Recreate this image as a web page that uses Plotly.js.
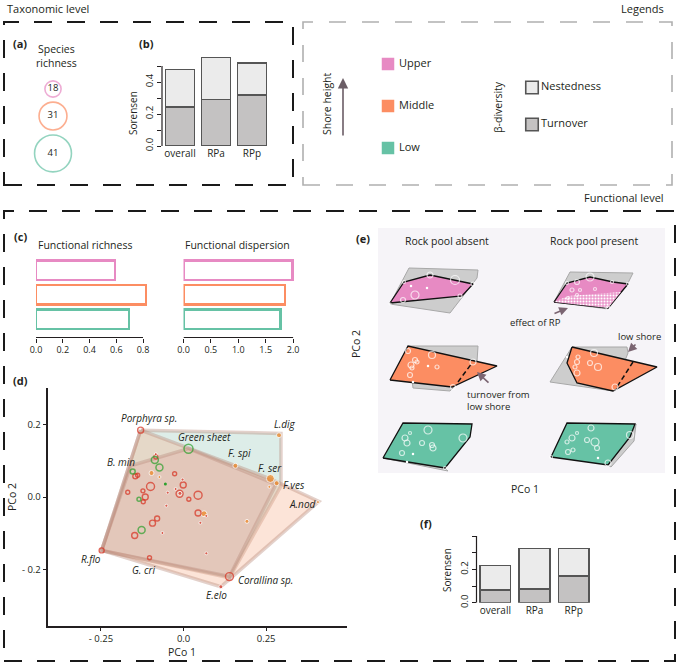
<!DOCTYPE html>
<html><head><meta charset="utf-8">
<script src="https://cdn.plot.ly/plotly-3.0.1.min.js"></script>
<style>html,body{margin:0;padding:0;background:#fff}#chart{width:678px;height:664px}</style>
</head><body><div id="chart"></div>
<script>
// ---------------- DATA ----------------
// (a) species richness per shore level
const shoreLevels = ['Upper', 'Middle', 'Low'];
const speciesRichness = [18, 31, 41];
// (b) taxonomic beta-diversity (Sorensen)
const groups = ['overall', 'RPa', 'RPp'];
const taxTurnover = [0.245, 0.292, 0.320];
const taxNestedness = [0.232, 0.262, 0.200];
// (c) functional richness / dispersion per shore level (Upper, Middle, Low)
const funcRichness = [0.59, 0.82, 0.695];
const funcDispersion = [1.99, 1.85, 1.77];
const richTicks = [0, 0.2, 0.4, 0.6, 0.8];
const dispTicks = [0, 0.5, 1.0, 1.5, 2.0];
// (d) PCoA of species
const redOpenX = [-0.130, -0.248, -0.103, 0.139, -0.100, -0.116, -0.122, -0.012, -0.001, 0.044, 0.044, 0.016, -0.027, -0.080, -0.094, -0.148, -0.169, -0.123, -0.146, -0.139, -0.084];
const redOpenY = [0.184, -0.147, -0.167, -0.219, 0.029, 0.000, -0.013, 0.009, 0.033, 0.005, -0.044, -0.006, 0.064, -0.059, -0.072, -0.106, 0.013, 0.017, 0.057, 0.060, 0.110];
const redOpenS = [6, 5, 4, 8, 8, 6, 4, 7, 6, 8, 6, 4, 4, 5, 6, 6, 4, 4, 5, 4, 4];
const redDotX = [0.113, -0.003, -0.024, -0.048, -0.052, -0.064, 0.051, 0.069, 0.069, -0.011, -0.084];
const redDotY = [-0.247, 0.048, 0.022, 0.012, -0.024, -0.099, -0.071, -0.052, -0.155, 0.010, 0.118];
const redDotS = [4, 3, 3, 3, 3, 3, 3, 3, 3, 4, 3];
const greenOpenX = [0.015, -0.087, -0.073, -0.154, -0.135, -0.127];
const greenOpenY = [0.133, 0.102, 0.081, 0.070, -0.006, -0.091];
const greenOpenS = [9, 7, 7, 5, 4, 7];
const greenDotX = [-0.055];
const greenDotY = [0.036];
const orangeX = [0.289, 0.157, 0.263, 0.282, 0.260, 0.407, -0.097, -0.073, 0.062, 0.192];
const orangeY = [0.170, 0.086, 0.051, 0.038, 0.028, -0.014, 0.066, 0.055, -0.046, -0.067];
const orangeS = [5, 5, 8, 5, 3, 3, 5, 3, 6, 4];
const hullTealX = [-0.130, 0.295, 0.295, 0.139, -0.248];
const hullTealY = [0.184, 0.175, 0.030, -0.222, -0.147];
const hullPeachX = [-0.130, 0.263, 0.410, 0.113, -0.248];
const hullPeachY = [0.184, 0.050, -0.012, -0.247, -0.147];
const hullRedX = [-0.248, -0.160, 0.015, 0.280, 0.139];
const hullRedY = [-0.147, 0.086, 0.133, 0.035, -0.219];
const speciesNames = ['Porphyra sp.', 'Green sheet', 'L.dig', 'F. spi', 'F. ser', 'F.ves', 'A.nod', 'B. min', 'R.flo', 'G. cri', 'Corallina sp.', 'E.elo'];
const speciesLabX = [-0.105, 0.064, 0.308, 0.168, 0.261, 0.334, 0.360, -0.189, -0.279, -0.120, 0.248, 0.100];
const speciesLabY = [0.218, 0.164, 0.201, 0.121, 0.081, 0.034, -0.018, 0.095, -0.171, -0.202, -0.228, -0.270];
const dTickX = [-0.25, 0, 0.25];
const dTickXText = ['- 0.25', '0.0', '0.25'];
const dTickY = [-0.2, 0, 0.2];
const dTickYText = ['- 0.2', '0.0', '0.2'];
// (e) schematic functional spaces (pixel-like schematic units)
const greyUAx = [409, 478, 477, 450, 390], greyUAy = [268, 270, 278, 313, 304];
const pinkUAx = [390, 404, 430, 455, 473, 462], pinkUAy = [303, 282, 275, 280, 284, 296];
const greyUPx = [570, 633, 627, 608, 554], greyUPy = [272, 273, 285, 309, 302];
const pinkUPx = [554, 567, 590, 613, 628, 608], pinkUPy = [302, 283, 277, 282, 284, 308];
const rpUPx = [554, 568, 621, 608], rpUPy = [302, 296, 292, 308];
const greyMAx = [408, 478, 477, 450, 413], greyMAy = [346, 346, 362, 391, 388];
const orangeMAx = [390, 408, 497, 452], orangeMAy = [380, 346, 366, 387];
const dashMAx = [458, 472], dashMAy = [382, 363];
const greyMPx = [572, 627, 628, 613, 550], greyMPy = [347, 347, 353, 391, 382];
const orangeMPx = [572, 657, 613, 577, 567], orangeMPy = [347, 367, 391, 383, 363];
const dashMPx = [633, 617], dashMPy = [362, 387];
const greyLAx = [383, 445, 448], greyLAy = [458, 468, 471];
const greenLAx = [383, 403, 472, 470, 445], greenLAy = [458, 423, 424, 437, 468];
const greyLPx = [630, 636, 634, 611, 608], greyLPy = [437, 424, 441, 467, 465];
const greenLPx = [551, 567, 635, 630, 608], greenLPy = [457, 423, 424, 437, 465];
const eCircX = [430, 455, 415, 403, 404, 473, 460, 390, 590, 577, 572, 580, 595, 612, 567, 608, 568, 577, 628,
  408, 432, 415, 411, 412, 410, 437, 473, 453, 417, 594, 578, 577, 590, 598, 575, 577, 615,
  428, 463, 405, 407, 422, 432, 433, 402, 410, 445, 591, 595, 587, 572, 567, 577, 568, 573, 597, 608, 630, 551];
const eCircY = [275, 280, 295, 300, 282, 284, 296, 304, 277, 282, 290, 290, 289, 282, 283, 308, 298, 295, 284,
  351, 355, 360, 365, 368, 375, 367, 362, 387, 362, 353, 357, 362, 363, 367, 367, 373, 387,
  430, 438, 438, 443, 443, 445, 448, 453, 433, 468, 428, 442, 440, 438, 442, 433, 452, 450, 448, 463, 435, 457];
const eCircS = [6, 9, 8, 5, 3, 4, 4, 2, 8, 5, 4, 3, 3, 3, 3, 4, 3, 3, 3,
  5, 7, 5, 6, 4, 5, 4, 6, 5, 4, 7, 4, 5, 5, 7, 4, 6, 6,
  8, 8, 6, 6, 5, 5, 6, 5, 3, 3, 6, 8, 5, 6, 4, 3, 5, 4, 5, 6, 7, 3];
const eDotX = [411, 427, 428, 413, 567, 413, 407, 598];
const eDotY = [286, 288, 366, 382, 357, 454, 462, 458];
// (f) functional beta-diversity (Sorensen)
const funTurnover = [0.076, 0.082, 0.160];
const funNestedness = [0.148, 0.244, 0.166];
const betaParts = ['Nestedness', 'Turnover'];

// ---------------- STYLE / LAYOUT HELPERS ----------------
const W = 678, H = 664;
const FONT = '"Open Sans", Lato, sans-serif';
const INK = '#231f20';
const C_UP = '#e78ac3', C_MID = '#fc8d62', C_LOW = '#66c2a5';
const levelColors = [C_UP, C_MID, C_LOW];
const C_TURN = '#c4c2c2', C_NEST = '#ebebeb', C_BAREDGE = '#555555';
function dx(a, b) { return [a / W, b / W]; }
function dy(t, b) { return [1 - b / H, 1 - t / H]; }
function ann(text, x, y, o) {
  return Object.assign({ text: text, x: x / W, y: 1 - y / H, xref: 'paper', yref: 'paper', showarrow: false,
    xanchor: 'center', yanchor: 'middle', font: { family: FONT, size: 10.5, color: INK } }, o || {});
}
function closed(a) { return a.concat([a[0]]); }
const hidden = { visible: false, showgrid: false, zeroline: false };

const traces = [];
// (a) species richness circles, stacked from their sizes
const rad = speciesRichness.map(v => v * 0.45);
const aY = []; let cur = 89;
rad.forEach((r, i) => { if (i > 0) cur += rad[i - 1] + 5 + r; aY.push(cur); });
traces.push({ type: 'scatter', mode: 'markers+text', xaxis: 'x7', yaxis: 'y7',
  x: shoreLevels.map(() => 0), y: aY, text: speciesRichness.map(String), textposition: 'middle center',
  textfont: { family: FONT, size: 9.5, color: INK },
  marker: { size: rad.map(r => 2 * r), color: 'rgba(255,255,255,0)', line: { color: levelColors, width: 1.6 } },
  hoverinfo: 'skip', showlegend: false });

// (b) taxonomic beta-diversity
traces.push({ type: 'bar', xaxis: 'x', yaxis: 'y', x: groups, y: taxTurnover, width: 0.8, name: 'Turnover',
  marker: { color: C_TURN, line: { color: C_BAREDGE, width: 1.5 } }, showlegend: false });
traces.push({ type: 'bar', xaxis: 'x', yaxis: 'y', x: groups, y: taxNestedness, width: 0.8, name: 'Nestedness',
  marker: { color: C_NEST, line: { color: C_BAREDGE, width: 1.5 } }, showlegend: false });

// (c) functional richness / dispersion
traces.push({ type: 'bar', orientation: 'h', xaxis: 'x2', yaxis: 'y2', y: shoreLevels, x: funcRichness, width: 0.8,
  marker: { color: 'white', line: { color: levelColors, width: 2.3 } }, showlegend: false });
traces.push({ type: 'bar', orientation: 'h', xaxis: 'x3', yaxis: 'y3', y: shoreLevels, x: funcDispersion, width: 0.8,
  marker: { color: 'white', line: { color: levelColors, width: 2.3 } }, showlegend: false });

// (d) hulls and species
const hullEdge = { color: 'rgba(185,140,125,0.40)', width: 3.5 };
traces.push({ type: 'scatter', mode: 'lines', xaxis: 'x4', yaxis: 'y4', x: closed(hullTealX), y: closed(hullTealY),
  fill: 'toself', fillcolor: 'rgba(120,185,165,0.25)', line: hullEdge, hoverinfo: 'skip', showlegend: false });
traces.push({ type: 'scatter', mode: 'lines', xaxis: 'x4', yaxis: 'y4', x: closed(hullPeachX), y: closed(hullPeachY),
  fill: 'toself', fillcolor: 'rgba(245,170,135,0.32)', line: hullEdge, hoverinfo: 'skip', showlegend: false });
traces.push({ type: 'scatter', mode: 'lines', xaxis: 'x4', yaxis: 'y4', x: closed(hullRedX), y: closed(hullRedY),
  fill: 'toself', fillcolor: 'rgba(220,120,120,0.17)', line: hullEdge, hoverinfo: 'skip', showlegend: false });
traces.push({ type: 'scatter', mode: 'markers', xaxis: 'x4', yaxis: 'y4', x: orangeX, y: orangeY,
  marker: { size: orangeS, color: '#ef8520' }, showlegend: false });
traces.push({ type: 'scatter', mode: 'markers', xaxis: 'x4', yaxis: 'y4', x: redOpenX, y: redOpenY,
  marker: { size: redOpenS, color: 'rgba(0,0,0,0)', line: { color: '#d7301f', width: 1.4 } }, showlegend: false });
traces.push({ type: 'scatter', mode: 'markers', xaxis: 'x4', yaxis: 'y4', x: redDotX, y: redDotY,
  marker: { size: redDotS, color: '#d7301f' }, showlegend: false });
traces.push({ type: 'scatter', mode: 'markers', xaxis: 'x4', yaxis: 'y4', x: greenOpenX, y: greenOpenY,
  marker: { size: greenOpenS, color: 'rgba(0,0,0,0)', line: { color: '#2ca02c', width: 1.5 } }, showlegend: false });
traces.push({ type: 'scatter', mode: 'markers', xaxis: 'x4', yaxis: 'y4', x: greenDotX, y: greenDotY,
  marker: { size: 3, color: '#2ca02c' }, showlegend: false });

// (e) schematic
function poly(xs, ys, fill, line, extra) {
  return Object.assign({ type: 'scatter', mode: 'lines', xaxis: 'x5', yaxis: 'y5', x: closed(xs), y: closed(ys),
    fill: 'toself', fillcolor: fill, line: line, hoverinfo: 'skip', showlegend: false }, extra || {});
}
const greyLine = { color: '#a8a8a8', width: 1 };
const blackLine = { color: '#111', width: 1.3 };
[[greyUAx, greyUAy], [greyUPx, greyUPy], [greyMAx, greyMAy], [greyMPx, greyMPy], [greyLAx, greyLAy], [greyLPx, greyLPy]]
  .forEach(p => traces.push(poly(p[0], p[1], '#cdcdcd', greyLine)));
traces.push(poly(pinkUAx, pinkUAy, C_UP, blackLine));
traces.push(poly(pinkUPx, pinkUPy, C_UP, blackLine));
traces.push(poly(rpUPx, rpUPy, C_UP, { color: 'rgba(0,0,0,0)', width: 0 },
  { fillpattern: { shape: '.', bgcolor: '#ec9bcd', fgcolor: '#ffffff', size: 3, solidity: 0.35 } }));
traces.push(poly(orangeMAx, orangeMAy, C_MID, blackLine));
traces.push(poly(orangeMPx, orangeMPy, C_MID, blackLine));
traces.push(poly(greenLAx, greenLAy, C_LOW, blackLine));
traces.push(poly(greenLPx, greenLPy, C_LOW, blackLine));
traces.push({ type: 'scatter', mode: 'lines', xaxis: 'x5', yaxis: 'y5', x: dashMAx, y: dashMAy,
  line: { color: '#111', width: 1.5, dash: '5px,3px' }, hoverinfo: 'skip', showlegend: false });
traces.push({ type: 'scatter', mode: 'lines', xaxis: 'x5', yaxis: 'y5', x: dashMPx, y: dashMPy,
  line: { color: '#111', width: 1.5, dash: '5px,3px' }, hoverinfo: 'skip', showlegend: false });
traces.push({ type: 'scatter', mode: 'markers', xaxis: 'x5', yaxis: 'y5', x: eCircX, y: eCircY,
  marker: { size: eCircS, color: 'rgba(0,0,0,0)', line: { color: '#ffffff', width: 1.2 } }, hoverinfo: 'skip', showlegend: false });
traces.push({ type: 'scatter', mode: 'markers', xaxis: 'x5', yaxis: 'y5', x: eDotX, y: eDotY,
  marker: { size: 2.5, color: '#ffffff' }, hoverinfo: 'skip', showlegend: false });

// (f) functional beta-diversity
traces.push({ type: 'bar', xaxis: 'x6', yaxis: 'y6', x: groups, y: funTurnover, width: 0.78,
  marker: { color: C_TURN, line: { color: C_BAREDGE, width: 1.5 } }, showlegend: false });
traces.push({ type: 'bar', xaxis: 'x6', yaxis: 'y6', x: groups, y: funNestedness, width: 0.78,
  marker: { color: C_NEST, line: { color: C_BAREDGE, width: 1.5 } }, showlegend: false });

// Legend panel (hidden axes, legend rows laid out top-down)
const legShoreY = shoreLevels.map((_, i) => 64 + i * 42);
traces.push({ type: 'scatter', mode: 'markers', xaxis: 'x8', yaxis: 'y8', x: shoreLevels.map(() => 388), y: legShoreY,
  marker: { symbol: 'square', size: 12.5, color: levelColors }, hoverinfo: 'skip', showlegend: false });
traces.push({ type: 'scatter', mode: 'text', xaxis: 'x8', yaxis: 'y8', x: shoreLevels.map(() => 399), y: legShoreY,
  text: shoreLevels, textposition: 'middle right', textfont: { family: FONT, size: 11, color: INK },
  hoverinfo: 'skip', showlegend: false });
const legBetaY = betaParts.map((_, i) => 87.5 + i * 37);
traces.push({ type: 'scatter', mode: 'markers', xaxis: 'x8', yaxis: 'y8', x: betaParts.map(() => 532), y: legBetaY,
  marker: { symbol: 'square', size: 12.5, color: [C_NEST, C_TURN], line: { color: '#555', width: 1.6 } },
  hoverinfo: 'skip', showlegend: false });
traces.push({ type: 'scatter', mode: 'text', xaxis: 'x8', yaxis: 'y8', x: betaParts.map(() => 541), y: legBetaY,
  text: betaParts, textposition: 'middle right', textfont: { family: FONT, size: 11, color: INK },
  hoverinfo: 'skip', showlegend: false });

// ---------------- AXES ----------------
const tickFont = { family: FONT, size: 9.5, color: INK };
const layout = {
  width: W, height: H, margin: { l: 0, r: 0, t: 0, b: 0 }, paper_bgcolor: '#ffffff', plot_bgcolor: 'rgba(0,0,0,0)',
  barmode: 'stack', showlegend: false, font: { family: FONT, color: INK },
  // (b)
  xaxis: { domain: dx(162, 270), range: [-0.5, 2.5], type: 'category', showline: false, showgrid: false, zeroline: false,
    ticks: '', tickfont: { family: FONT, size: 10, color: INK }, anchor: 'y', fixedrange: true },
  yaxis: { domain: dy(50, 146), range: [0, 0.6], tickvals: [0, 0.1, 0.2, 0.3, 0.4, 0.5], ticktext: ['0.0', '', '0.2', '', '0.4', ''],
    ticks: 'outside', ticklen: 4, tickwidth: 1, tickcolor: INK, tickangle: -90, tickfont: tickFont, showgrid: false,
    zeroline: false, showline: false, anchor: 'x' },
  // (c)
  xaxis2: { domain: dx(36, 36 + 0.84 * 133.75), range: [0, 0.84], tickvals: richTicks, ticktext: richTicks.map(v => v.toFixed(1)),
    ticks: 'outside', ticklen: 4, tickcolor: INK, tickfont: { family: FONT, size: 9, color: INK }, showgrid: false,
    zeroline: false, showline: false, anchor: 'y2' },
  yaxis2: { domain: dy(258, 337.5), range: [-0.75, 2.5], type: 'category', categoryorder: 'array',
    categoryarray: ['Low', 'Middle', 'Upper'], visible: false, anchor: 'x2' },
  xaxis3: { domain: dx(183.5, 183.5 + 2.05 * 54.8), range: [0, 2.05], tickvals: dispTicks, ticktext: dispTicks.map(v => v.toFixed(1)),
    ticks: 'outside', ticklen: 4, tickcolor: INK, tickfont: { family: FONT, size: 9, color: INK }, showgrid: false,
    zeroline: false, showline: false, anchor: 'y3' },
  yaxis3: { domain: dy(258, 337.5), range: [-0.75, 2.5], type: 'category', categoryorder: 'array',
    categoryarray: ['Low', 'Middle', 'Upper'], visible: false, anchor: 'x3' },
  // (d)
  xaxis4: { domain: dx(47.5, 347), range: [-0.412, 0.495], tickvals: dTickX, ticktext: dTickXText, ticks: 'outside',
    ticklen: 3, tickcolor: INK, tickfont: tickFont, showline: true, linecolor: INK, linewidth: 1.8, showgrid: false,
    zeroline: false, anchor: 'y4' },
  yaxis4: { domain: dy(388, 626), range: [-0.355, 0.30], tickvals: dTickY, ticktext: dTickYText, ticks: 'outside',
    ticklen: 3, tickcolor: INK, tickfont: tickFont, showline: true, linecolor: INK, linewidth: 1.8, showgrid: false,
    zeroline: false, anchor: 'x4' },
  // (e)
  xaxis5: Object.assign({ domain: dx(378, 665), range: [378, 665], anchor: 'y5' }, hidden),
  yaxis5: Object.assign({ domain: dy(228, 473), range: [473, 228], anchor: 'x5' }, hidden),
  // (f)
  xaxis6: { domain: dx(476.5, 593.3), range: [-0.48, 2.5], type: 'category', showline: false, showgrid: false, zeroline: false,
    ticks: '', tickfont: { family: FONT, size: 10, color: INK }, anchor: 'y6' },
  yaxis6: { domain: dy(532.7, 602.7), range: [0, 0.42], tickvals: [0, 0.1, 0.2, 0.3, 0.4], ticktext: ['0.0', '', '0.2', '', ''],
    ticks: 'outside', ticklen: 4, tickcolor: INK, tickangle: -90, tickfont: tickFont, showgrid: false, zeroline: false,
    showline: false, anchor: 'x6' },
  // (a)
  xaxis7: Object.assign({ domain: dx(23, 83), range: [-1, 1], anchor: 'y7' }, hidden),
  yaxis7: Object.assign({ domain: dy(60, 185), range: [185, 60], anchor: 'x7' }, hidden),
  // legends
  xaxis8: Object.assign({ domain: dx(303, 672), range: [303, 672], anchor: 'y8' }, hidden),
  yaxis8: Object.assign({ domain: dy(22, 185), range: [185, 22], anchor: 'x8' }, hidden),
};

// ---------------- DECORATION ----------------
layout.shapes = [
  { type: 'rect', xref: 'x5 domain', yref: 'y5 domain', x0: 0, x1: 1, y0: 0, y1: 1, fillcolor: '#f6f4f8', line: { width: 0 }, layer: 'below' },
  { type: 'rect', xref: 'paper', yref: 'paper', x0: 4 / W, x1: 293 / W, y0: 1 - 185 / H, y1: 1 - 22 / H,
    line: { color: '#1a1a1a', width: 2, dash: '18px,15px' } },
  { type: 'rect', xref: 'paper', yref: 'paper', x0: 303 / W, x1: 672 / W, y0: 1 - 185 / H, y1: 1 - 22 / H,
    line: { color: '#b0b0b0', width: 1.6, dash: '17px,16px' } },
  { type: 'rect', xref: 'paper', yref: 'paper', x0: 4 / W, x1: 675 / W, y0: 1 - 661 / H, y1: 1 - 211 / H,
    line: { color: '#1a1a1a', width: 2, dash: '18px,15px' } },
  { type: 'line', xref: 'x domain', yref: 'y', x0: 0, x1: 0, y0: 0, y1: 0.5, line: { color: INK, width: 1.2 } },
  { type: 'line', xref: 'x2', yref: 'y2 domain', x0: 0, x1: 0.8, y0: 0, y1: 0, line: { color: INK, width: 1.2 } },
  { type: 'line', xref: 'x3', yref: 'y3 domain', x0: 0, x1: 2, y0: 0, y1: 0, line: { color: INK, width: 1.2 } },
  { type: 'line', xref: 'x6 domain', yref: 'y6', x0: 0, x1: 0, y0: 0, y1: 0.4, line: { color: INK, width: 1.2 } },
];

const bold = { family: FONT, size: 11, color: INK, weight: 'bold' };
const f10 = { family: FONT, size: 10, color: INK };
const A = [
  ann('Taxonomic level', 5, 9, { xanchor: 'left', font: { family: FONT, size: 11, color: INK } }),
  ann('Legends', 666, 8, { xanchor: 'right', font: { family: FONT, size: 11, color: INK } }),
  ann('Functional level', 666, 197, { xanchor: 'right', font: { family: FONT, size: 11, color: INK } }),
  ann('<b>(a)</b>', 20, 43, { font: bold }),
  ann('<b>(b)</b>', 146, 43, { font: bold }),
  ann('<b>(c)</b>', 20, 236, { font: bold }),
  ann('<b>(d)</b>', 20, 380, { font: bold }),
  ann('<b>(e)</b>', 363, 238, { font: bold }),
  ann('<b>(f)</b>', 426, 523, { font: bold }),
  ann('Species<br>richness', 56, 56),
  ann('Sorensen', 133, 113, { textangle: -90, font: f10 }),
  ann('Sorensen', 447, 570, { textangle: -90, font: f10 }),
  ann('Shore height', 327, 104, { textangle: -90 }),
  ann('β-diversity', 498, 107, { textangle: -90 }),
  ann('Functional richness', 36, 245, { xanchor: 'left' }),
  ann('Functional dispersion', 183, 245, { xanchor: 'left' }),
  ann('PCo 2', 12, 497, { textangle: -90 }),
  ann('PCo 1', 182, 652),
  ann('PCo 2', 356, 344, { textangle: -90 }),
  ann('PCo 1', 525, 489),
  ann('Rock pool absent', 447, 241),
  ann('Rock pool present', 594, 241),
  ann('effect of RP', 535, 322, { font: { family: FONT, size: 9.5, color: INK } }),
  ann('turnover from<br>low shore', 465, 400, { xanchor: 'left', align: 'left', font: { family: FONT, size: 9.5, color: INK } }),
  ann('low shore', 639, 336, { font: { family: FONT, size: 9.5, color: INK } }),
  // shore height arrow
  { x: 343 / W, y: 1 - 78 / H, xref: 'paper', yref: 'paper', text: '', showarrow: true, ax: 0, ay: 59,
    arrowhead: 2, arrowsize: 1.3, arrowwidth: 1.6, arrowcolor: '#6b5d66' },
];
// (e) arrows
const arrowCol = '#7b6572';
[[568, 308, 553, 314], [477, 372, 490, 384], [628, 352, 637, 343]].forEach(a => {
  A.push({ x: a[0], y: a[1], xref: 'x5', yref: 'y5', ax: a[2], ay: a[3], axref: 'x5', ayref: 'y5', text: '',
    showarrow: true, arrowhead: 2, arrowsize: 1.1, arrowwidth: 1.6, arrowcolor: arrowCol });
});
// (d) species labels
speciesNames.forEach((n, i) => {
  A.push({ x: speciesLabX[i], y: speciesLabY[i], xref: 'x4', yref: 'y4', text: '<i>' + n + '</i>', showarrow: false,
    font: { family: FONT, size: 10, color: INK } });
});
layout.annotations = A;

Plotly.newPlot('chart', traces, layout, { displayModeBar: false, staticPlot: true });
</script></body></html>
